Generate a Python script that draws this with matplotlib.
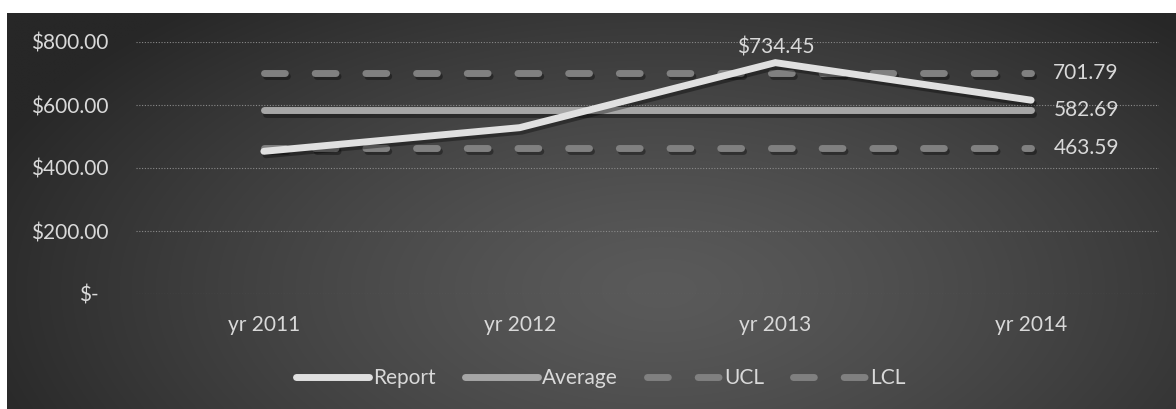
import numpy as np
import matplotlib
matplotlib.use("Agg")
import matplotlib.pyplot as plt
import matplotlib.patheffects as pe
from matplotlib.ticker import FuncFormatter
from matplotlib.transforms import ScaledTranslation

# --- data -------------------------------------------------------------
years = ["yr 2011", "yr 2012", "yr 2013", "yr 2014"]
report = [453.0, 528.0, 734.45, 615.31]
average = [582.69, 582.69, 582.69, 582.69]
ucl = [701.79, 701.79, 701.79, 701.79]
lcl = [463.59, 463.59, 463.59, 463.59]
y_ticks = [0, 200, 400, 600, 800]

plt.rcParams["font.family"] = ["Lato", "DejaVu Sans"]
TEXT = "#d9d9d9"
FS = 15

fig = plt.figure(figsize=(11.76, 4.09), dpi=100, facecolor="white")

# radial grey background of the chart area
W, H = 1176, 409
bg = fig.add_axes([7 / W, 0, (W - 7) / W, (H - 13) / H], zorder=0)
nx, ny = 600, 220
xx, yy = np.meshgrid(np.linspace(0, 1, nx), np.linspace(0, 1, ny))
r = np.sqrt(((xx - 0.56) / 0.62) ** 2 + ((yy - 0.70) / 0.95) ** 2)
r = np.clip(r, 0, 1)
light, dark = 0x5a / 255, 0x27 / 255
val = light - (light - dark) * r ** 1.3
bg.imshow(np.dstack([val, val, val]), aspect="auto", extent=[0, 1, 0, 1],
          origin="upper", interpolation="bilinear")
bg.set_axis_off()

ax = fig.add_axes([136 / W, 115 / H, 1023 / W, 252 / H], zorder=1)
ax.set_facecolor("none")
x = np.arange(len(years))

shadow = [pe.SimpleLineShadow(offset=(1.5, -2.5), shadow_color="black", alpha=0.35),
          pe.Normal()]
LW = 5

ax.plot(x, ucl, color="#808080", lw=LW, dashes=(3.0, 4.3),
        dash_capstyle="round", solid_capstyle="round", label="UCL",
        path_effects=shadow, zorder=3)
ax.plot(x, lcl, color="#808080", lw=LW, dashes=(3.0, 4.3),
        dash_capstyle="round", solid_capstyle="round", label="LCL",
        path_effects=shadow, zorder=3)
ax.plot(x, average, color="#a6a6a6", lw=LW, solid_capstyle="round",
        label="Average", path_effects=shadow, zorder=4)
ax.plot(x, report, color="#e0e0e0", lw=LW, solid_capstyle="round",
        solid_joinstyle="miter", label="Report", path_effects=shadow, zorder=5)

# value labels
peak = int(np.argmax(report))
ax.annotate(f"${report[peak]:,.2f}", (x[peak], report[peak]), xytext=(0, 11),
            textcoords="offset points", ha="center", va="center",
            color=TEXT, fontsize=FS, zorder=6)
for series in (ucl, average, lcl):
    ax.annotate(f"{series[-1]:.2f}", (x[-1], series[-1]), xytext=(16, 0),
                textcoords="offset points", ha="left", va="center",
                color=TEXT, fontsize=FS, zorder=6)

ax.set_xlim(-0.5, len(years) - 0.5)
ax.set_ylim(0, 800)
ax.set_xticks(x)
ax.set_xticklabels(years)
ax.set_yticks(y_ticks)
ax.yaxis.set_major_formatter(FuncFormatter(lambda v, p: "$-" if v == 0 else f"${v:,.2f}"))
ax.tick_params(axis="both", length=0, colors=TEXT, labelsize=FS)
ax.tick_params(axis="y", pad=20)
ax.tick_params(axis="x", pad=15)
for lbl in ax.get_yticklabels():
    if lbl.get_text() == "$-":
        lbl.set_transform(lbl.get_transform() +
                          ScaledTranslation(-7 / 72, 0, fig.dpi_scale_trans))

ax.grid(axis="y", color="#8a8a8a", lw=0.8, linestyle=(0, (1, 1.5)), zorder=1)
for s in ax.spines.values():
    s.set_visible(False)

handles, labels = ax.get_legend_handles_labels()
order = [labels.index(n) for n in ("Report", "Average", "UCL", "LCL")]
leg = fig.legend([handles[i] for i in order], [labels[i] for i in order],
                 loc="center", bbox_to_anchor=(601 / W, 1 - 378 / H), ncol=4,
                 frameon=False, fontsize=FS, handlelength=3.5, handletextpad=0.2,
                 columnspacing=1.4, labelcolor=TEXT)
for h in leg.get_lines():
    h.set_path_effects([])

fig.savefig("out.png", dpi=100, facecolor=fig.get_facecolor())
